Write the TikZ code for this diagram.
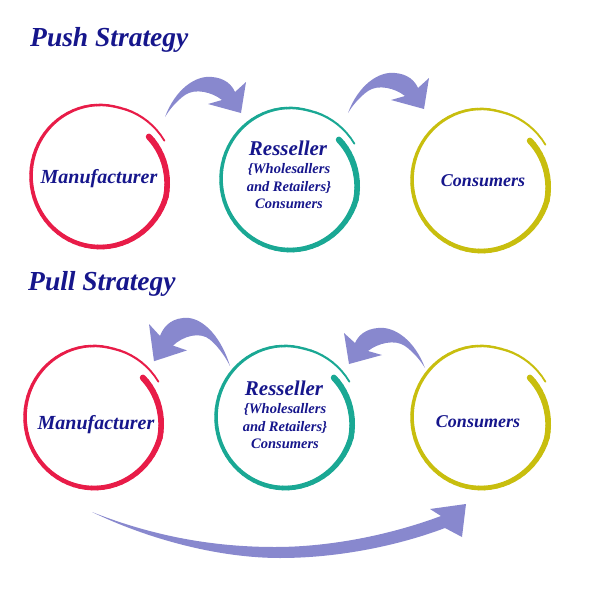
\documentclass[tikz,border=0pt]{standalone}
\usepackage{fontspec}
\setmainfont{Liberation Serif}
\usetikzlibrary{calc}
\definecolor{navy}{RGB}{22,22,140}
\definecolor{cred}{RGB}{232,28,72}
\definecolor{cteal}{RGB}{26,168,148}
\definecolor{cyel}{RGB}{200,190,14}
\definecolor{arr}{RGB}{136,136,206}
\newcommand\swirl[2]{%
\foreach \i in {0,...,73}{%
 \pgfmathsetmacro\tA{\i/74}%
 \pgfmathsetmacro\tB{(\i+1)/74}%
 \pgfmathsetmacro\aA{28+370*\tA}%
 \pgfmathsetmacro\aB{28+370*\tB}%
 \pgfmathsetmacro\rA{69+4*max(0,1-8*\tA)-7*max(0,(\tA-0.85)/0.15)}%
 \pgfmathsetmacro\rB{69+4*max(0,1-8*\tB)-7*max(0,(\tB-0.85)/0.15)}%
 \pgfmathsetmacro\w{1.8+4.4*\tA}%
 \draw[draw=#2, line width=\w pt, line cap=round]
   ($(#1)+({\rA*cos(\aA)*1pt},{1.03*\rA*sin(\aA)*1pt})$) --
   ($(#1)+({\rB*cos(\aB)*1pt},{1.03*\rB*sin(\aB)*1pt})$);
}}
\tikzset{
  ttl/.style={font=\fontsize{27.5}{30}\selectfont\bfseries\itshape, text=navy, anchor=base west, inner sep=0pt},
  big/.style={font=\fontsize{20}{24}\selectfont\bfseries\itshape, text=navy, anchor=base, inner sep=0pt},
  cons/.style={font=\fontsize{18}{22}\selectfont\bfseries\itshape, text=navy, anchor=base, inner sep=0pt},
  res/.style={font=\fontsize{21}{24}\selectfont\bfseries\itshape, text=navy, anchor=base, inner sep=0pt},
  sub/.style={font=\fontsize{14.5}{17.5}\selectfont\bfseries\itshape, text=navy, anchor=base, inner sep=0pt, align=center},
  ring/.style={circle, minimum size=138pt, inner sep=0pt},
  band/.style={fill=arr, draw=none}
}
\begin{document}
\begin{tikzpicture}[x=1pt,y=-1pt]
\useasboundingbox[fill=white] (0,0) rectangle (600,597);
% titles
\node[ttl] (t1) at (30,46) {Push Strategy};
\node[ttl] (t2) at (28,290) {Pull Strategy};
% ring anchors
\node[ring] (pm) at (100,176) {};
\node[ring] (pr) at (290,179) {};
\node[ring] (pc) at (481,180) {};
\node[ring] (lm) at (94,417) {};
\node[ring] (lr) at (285,417) {};
\node[ring] (lc) at (481,417) {};
\swirl{pm}{cred}
\swirl{pr}{cteal}
\swirl{pc}{cyel}
\swirl{lm}{cred}
\swirl{lr}{cteal}
\swirl{lc}{cyel}
% texts push
\node[big] (pmt) at (99,183) {Manufacturer};
\node[res] (prt) at (288,155) {Resseller};
\node[sub] (prs1) at (289,173) {\{Wholesallers};
\node[sub] (prs2) at (289,191) {and Retailers\}};
\node[sub] (prs3) at (289,208) {Consumers};
\node[cons] (pct) at (483,186) {Consumers};
% texts pull
\node[big] (lmt) at (96,429) {Manufacturer};
\node[res] (lrt) at (284,395) {Resseller};
\node[sub] (lrs1) at (285,413) {\{Wholesallers};
\node[sub] (lrs2) at (285,431) {and Retailers\}};
\node[sub] (lrs3) at (285,448) {Consumers};
\node[cons] (lct) at (478,427) {Consumers};
% push arrows
\path[band] (165,117) .. controls (175,90) and (195,75) .. (212,77)
  .. controls (225,78) and (232,85) .. (235,92) -- (246,82) -- (241,113) -- (208,104) -- (222,100)
  .. controls (212,92) and (195,88) .. (185,95) .. controls (175,102) and (168,112) .. (165,117) -- cycle;
\begin{scope}[shift={(183,-4)}]
\path[band] (165,117) .. controls (175,90) and (195,75) .. (212,77)
  .. controls (225,78) and (232,85) .. (235,92) -- (246,82) -- (241,113) -- (208,104) -- (222,100)
  .. controls (212,92) and (195,88) .. (185,95) .. controls (175,102) and (168,112) .. (165,117) -- cycle;
\end{scope}
% pull arrows (mirrored)
\begin{scope}[shift={(395,225.6)}, xscale=-1, yscale=1.2]
\path[band] (165,117) .. controls (175,90) and (195,75) .. (212,77)
  .. controls (225,78) and (232,85) .. (235,92) -- (246,82) -- (241,113) -- (208,104) -- (222,100)
  .. controls (212,92) and (195,88) .. (185,95) .. controls (175,102) and (168,112) .. (165,117) -- cycle;
\end{scope}
\begin{scope}[shift={(590,251)}, xscale=-1]
\path[band] (165,117) .. controls (175,90) and (195,75) .. (212,77)
  .. controls (225,78) and (232,85) .. (235,92) -- (246,82) -- (241,113) -- (208,104) -- (222,100)
  .. controls (212,92) and (195,88) .. (185,95) .. controls (175,102) and (168,112) .. (165,117) -- cycle;
\end{scope}
% bottom long arrow
\path[band] (92,512) .. controls (150,540) and (220,558) .. (280,558)
  .. controls (340,558) and (400,545) .. (445,528) -- (462,537) -- (466,504) -- (430,509) -- (441,516)
  .. controls (390,535) and (330,547) .. (275,547) .. controls (210,547) and (150,535) .. (92,512) -- cycle;
\end{tikzpicture}
\end{document}
